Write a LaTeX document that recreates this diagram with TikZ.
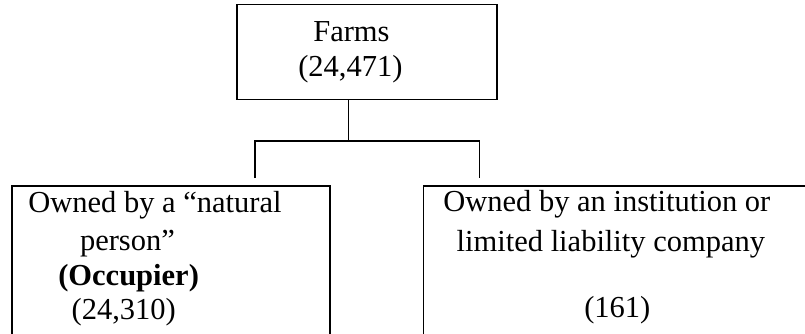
\documentclass[tikz,border=0pt]{standalone}
\usepackage{fontspec}
\setmainfont{Liberation Serif}
\begin{document}
\begin{tikzpicture}[x=1bp,y=-1bp,
  box/.style={draw=black, line width=1.6bp, inner sep=0pt, outer sep=0pt},
  txt/.style={inner sep=0pt, outer sep=0pt, anchor=base west, font=\fontsize{30.5bp}{35bp}\selectfont},
  conn/.style={draw=black, line width=1.6bp}]
\useasboundingbox (0,0) rectangle (805,333);
\clip (0,0) rectangle (805,333);
% boxes
\node[box, minimum width=259.7bp, minimum height=94.8bp] (top) at (366.9,51.9) {};
\node[box, minimum width=318bp, minimum height=200bp] (lbox) at (171,285.7) {};
\node[box, minimum width=477bp, minimum height=200bp] (rbox) at (661.8,285.7) {};
% texts
\node[txt] (t1) at (313.3,41.9) {Farms};
\node[txt] (t2) at (298.3,76.6) {(24,471)};
\node[txt] (l1) at (28.3,212.2) {Owned by a “natural};
\node[txt] (l2) at (80,250.8) {person”};
\node[txt] (l3) at (58.3,285) {\bfseries (Occupier)};
\node[txt] (l4) at (71.7,319.4) {(24,310)};
\node[txt] (r1) at (443.3,211.9) {Owned by an institution or};
\node[txt] (r2) at (456.7,251.5) {limited liability company};
\node[txt] (r3) at (584.3,317) {(161)};
% connectors
\coordinate (j) at (348.3,141);
\coordinate (hl) at (255,141);
\coordinate (hr) at (479.3,141);
\coordinate (lb) at (255,178);
\coordinate (rb) at (479.3,178);
\draw[conn] (top.south -| j) -- (j);
\draw[conn] (lb) -- (hl) -- (hr) -- (rb);
\end{tikzpicture}
\end{document}
